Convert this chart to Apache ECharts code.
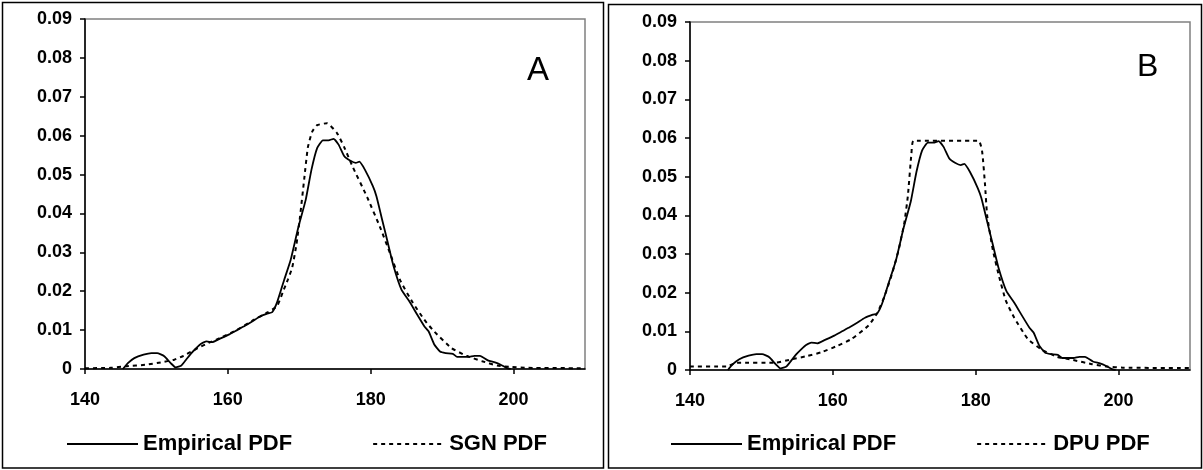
<!DOCTYPE html>
<html>
<head>
<meta charset="utf-8">
<script src="https://cdn.jsdelivr.net/npm/echarts@6/dist/echarts.min.js"></script>
<style>
html,body{margin:0;padding:0;background:#fff;}
#chart{width:1203px;height:470px;}
</style>
</head>
<body>
<div id="chart"></div>
<script>
// Empirical PDF (same in both panels)
const empX = [145.3,146.0,146.9,148.2,149.3,150.1,151.1,152.0,152.7,153.5,154.2,154.9,155.6,156.2,157.0,157.8,158.9,160.2,161.3,162.4,163.4,164.5,165.6,166.2,166.9,167.9,168.8,169.9,170.9,171.7,172.5,173.3,174.1,174.8,175.5,176.3,177.1,177.9,178.4,179.2,180.3,180.8,181.6,182.4,183.2,184.3,185.4,186.5,187.5,188.1,188.9,189.7,190.5,191.5,192.1,193.7,194.5,195.3,196.4,197.4,198.2,199.0,199.6];
const empY = [0,0.0015,0.0028,0.0037,0.0041,0.0041,0.0033,0.0015,0.0004,0.0009,0.0025,0.0041,0.0054,0.0064,0.0071,0.0069,0.0078,0.0089,0.0100,0.0111,0.0122,0.0135,0.0143,0.0146,0.0172,0.0230,0.0281,0.0367,0.0435,0.0512,0.0568,0.0588,0.0588,0.0592,0.0577,0.0547,0.0536,0.0530,0.0533,0.0512,0.0470,0.0444,0.0384,0.0324,0.0264,0.0204,0.0174,0.0140,0.0110,0.0097,0.0063,0.0045,0.0041,0.0039,0.0031,0.0031,0.0034,0.0034,0.0022,0.0017,0.0011,0.0003,0];

// SGN PDF (panel A)
const sgnX = [140,143.6,145.8,148.5,150.6,152.5,153.8,155.4,157.3,159.2,161.3,163.4,165.6,166.9,167.7,168.4,169.0,169.6,170.1,170.7,171.2,171.8,172.5,173.9,175.3,176.3,177.5,179.5,181.3,182.7,184.1,185.9,187.5,188.7,191.3,193.4,195.6,197.7,199.8,202,210];
const sgnY = [0.0002,0.0003,0.0007,0.0011,0.0017,0.0024,0.0034,0.0050,0.0067,0.0082,0.0101,0.0124,0.0146,0.0162,0.0198,0.0230,0.0260,0.0320,0.0391,0.0490,0.0570,0.0610,0.0627,0.0632,0.0606,0.0570,0.0519,0.0442,0.0365,0.0298,0.0229,0.0170,0.0127,0.0100,0.0054,0.0034,0.0020,0.0009,0.0005,0.0003,0.0002];

// DPU PDF (panel B)
const dpuX = [140,145.1,146.5,152.0,154.3,156.4,158.4,160.7,162.6,165.0,166.2,167.2,168.3,169.2,170.0,170.5,171.0,171.3,180.4,180.9,181.3,181.6,182.4,183.3,184.2,185.4,187.3,189.3,191.4,193.6,196.3,198.4,200.6,210];
const dpuY = [0.0009,0.0009,0.0019,0.0019,0.0028,0.0036,0.0046,0.0063,0.0080,0.0115,0.0147,0.0189,0.0250,0.0310,0.0380,0.0450,0.0560,0.0593,0.0593,0.0565,0.0480,0.0400,0.0310,0.0240,0.0180,0.0135,0.0080,0.0052,0.0034,0.0026,0.0015,0.0009,0.0006,0.0005];

const xTicks = [140,160,180,200];
const panelLabels = ['A','B'];
const seriesNames = ['Empirical PDF','SGN PDF','DPU PDF'];

const pairs = (xs, ys) => xs.map((x,i)=>[x, ys[i]]);
const FONT = "'Liberation Sans', Arial, sans-serif";

function xAxisFor(gi){
  return {
    type:'value', gridIndex:gi, min:140, max:210, interval:20,
    axisLine:{show:true, onZero:false, lineStyle:{color:'#000', width:1.5}},
    axisTick:{show:true, length:5, inside:false, customValues:xTicks, lineStyle:{color:'#000', width:1.5}},
    axisLabel:{show:true, customValues:xTicks, margin:22, color:'#000', fontFamily:FONT, fontWeight:'bold', fontSize:18},
    splitLine:{show:false}
  };
}
function yAxisFor(gi){
  return {
    type:'value', gridIndex:gi, min:0, max:0.09, interval:0.01,
    axisLine:{show:true, lineStyle:{color:'#000', width:1.5}},
    axisTick:{show:true, length:5, lineStyle:{color:'#000', width:1.5}},
    axisLabel:{show:true, margin:13, color:'#000', fontFamily:FONT, fontWeight:'bold', fontSize:18,
      formatter:v => v===0 ? '0' : v.toFixed(2)},
    splitLine:{show:false}
  };
}
const solid = {color:'#000', width:1.8, type:'solid'};
const dotted = {color:'#000', width:2, type:[4,4]};

function line(name, gi, data, ls){
  return {name, type:'line', xAxisIndex:gi, yAxisIndex:gi, data, showSymbol:false, symbol:'circle', symbolSize:0,
    smooth:0.15, lineStyle:ls, itemStyle:{color:'#000'}, emphasis:{disabled:true}, z:3};
}

const legendBase = {
  itemWidth:71, itemHeight:14, itemGap:80,
  itemStyle:{opacity:0, color:'rgba(0,0,0,0)', borderWidth:0},
  textStyle:{color:'#000', fontFamily:FONT, fontWeight:'bold', fontSize:22},
  selectedMode:false
};

const option = {
  animation:false,
  backgroundColor:'#fff',
  grid:[
    {left:85, top:19, width:500, height:350, show:true, borderColor:'#808080', borderWidth:1.5, backgroundColor:'transparent'},
    {left:690, top:22, width:500, height:348, show:true, borderColor:'#808080', borderWidth:1.5, backgroundColor:'transparent'}
  ],
  xAxis:[xAxisFor(0), xAxisFor(1)],
  yAxis:[yAxisFor(0), yAxisFor(1)],
  legend:[
    Object.assign({}, legendBase, {left:61, top:428, data:[seriesNames[0], seriesNames[1]]}),
    Object.assign({}, legendBase, {left:665, top:428, data:[seriesNames[0], seriesNames[2]]})
  ],
  series:[
    line(seriesNames[1], 0, pairs(sgnX, sgnY), dotted),
    line(seriesNames[0], 0, pairs(empX, empY), solid),
    line(seriesNames[2], 1, pairs(dpuX, dpuY), dotted),
    line(seriesNames[0], 1, pairs(empX, empY), solid)
  ],
  graphic:[
    {type:'rect', shape:{x:2.5, y:2.5, width:601, height:465.5}, style:{fill:'none', stroke:'#000', lineWidth:1.5}, silent:true},
    {type:'rect', shape:{x:608.5, y:4.5, width:593, height:463.5}, style:{fill:'none', stroke:'#000', lineWidth:1.5}, silent:true},
    {type:'text', x:527, y:71, style:{text:panelLabels[0], font:"normal 33px 'Liberation Sans', Arial, sans-serif", fill:'#000', textAlign:'left', textVerticalAlign:'middle'}, silent:true},
    {type:'text', x:1137, y:67, style:{text:panelLabels[1], font:"normal 32px 'Liberation Sans', Arial, sans-serif", fill:'#000', textAlign:'left', textVerticalAlign:'middle'}, silent:true}
  ]
};

const chart = echarts.init(document.getElementById('chart'), null, {renderer:'canvas'});
chart.setOption(option);
</script>
</body>
</html>
